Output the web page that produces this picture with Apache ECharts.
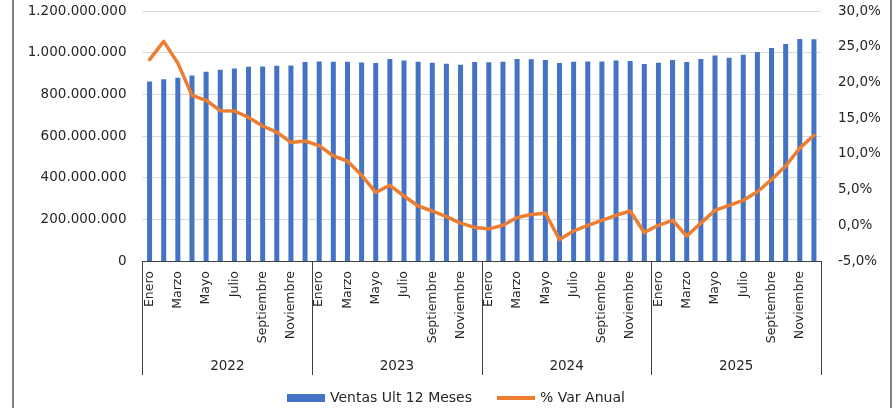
<!DOCTYPE html>
<html>
<head>
<meta charset="utf-8">
<title>Ventas Ult 12 Meses y % Var Anual</title>
<script src="https://cdn.jsdelivr.net/npm/echarts@6/dist/echarts.min.js"></script>
<style>
  html, body { margin: 0; padding: 0; background: #ffffff; }
  #chart { width: 896px; height: 408px; }
</style>
</head>
<body>
<div id="chart"></div>
<script>
// Month names shown on the lower category axis (one per data point)
const monthNames = ['Enero', 'Febrero', 'Marzo', 'Abril', 'Mayo', 'Junio',
  'Julio', 'Agosto', 'Septiembre', 'Octubre', 'Noviembre', 'Diciembre'];
const years = ['2022', '2023', '2024', '2025'];

// Rolling 12-month sales, Jan 2022 .. Dec 2025
const ventas2022 = [862000000, 873000000, 880000000, 891000000, 909000000, 918000000,
  924000000, 933000000, 934000000, 937000000, 939000000, 955000000];
const ventas2023 = [958000000, 957000000, 957000000, 953000000, 950000000, 970000000,
  963000000, 957000000, 952000000, 947000000, 942000000, 955000000];
const ventas2024 = [954000000, 957000000, 970000000, 968000000, 965000000, 950000000,
  957000000, 958000000, 958000000, 962000000, 960000000, 946000000];
const ventas2025 = [952000000, 965000000, 955000000, 970000000, 986000000, 976000000,
  990000000, 1003000000, 1023000000, 1042000000, 1066000000, 1064000000];

// Year-over-year change (%), Jan 2022 .. Dec 2025
const varAnual2022 = [23.2, 25.75, 22.7, 18.2, 17.5, 16.05, 16.0, 15.1, 13.9, 13.05, 11.6, 11.8];
const varAnual2023 = [11.15, 9.7, 9.0, 7.0, 4.6, 5.6, 4.1, 2.7, 2.0, 1.2, 0.3, -0.3];
const varAnual2024 = [-0.5, 0.0, 1.1, 1.5, 1.7, -2.0, -0.8, 0.0, 0.7, 1.4, 2.0, -1.0];
const varAnual2025 = [0.0, 0.7, -1.5, 0.3, 2.1, 2.8, 3.5, 4.7, 6.4, 8.3, 10.8, 12.6];

// Left axis ticks (0 .. 1.200.000.000) and right axis ticks (-5% .. 30%)
const leftTicks = { min: 0, max: 1200000000, step: 200000000 };
const rightTicks = { min: -5, max: 30, step: 5 };

const categories = [];
years.forEach(() => monthNames.forEach(m => categories.push(m)));
const ventas = [].concat(ventas2022, ventas2023, ventas2024, ventas2025);
const varAnual = [].concat(varAnual2022, varAnual2023, varAnual2024, varAnual2025);

const FONT = 'DejaVu Sans';
const TEXT = '#262626';
const BAR_COLOR = '#4472C4';
const LINE_COLOR = '#ED7D31';

function miles(v) {
  return String(v).replace(/\B(?=(\d{3})+(?!\d))/g, '.');
}
function pct(v) {
  return v.toFixed(1).replace('.', ',') + '%';
}

const chart = echarts.init(document.getElementById('chart'), null, { renderer: 'canvas' });

chart.setOption({
  animation: false,
  backgroundColor: '#ffffff',
  textStyle: { fontFamily: FONT },
  grid: { left: 142.5, right: 75, top: 11, bottom: 147, containLabel: false },
  xAxis: [
    {
      type: 'category',
      data: categories,
      position: 'bottom',
      axisLine: { show: true, onZero: false, lineStyle: { color: '#404040', width: 1 } },
      axisTick: { show: false },
      axisLabel: {
        rotate: 90,
        interval: 1,
        margin: 10,
        fontFamily: FONT,
        fontSize: 12.5,
        color: TEXT
      },
      splitLine: { show: false }
    },
    {
      // year grouping row: boundary ticks drawn long to separate the years
      type: 'category',
      data: years,
      position: 'bottom',
      offset: 0,
      axisLine: { show: true, onZero: false, lineStyle: { color: '#404040', width: 1 } },
      axisTick: {
        show: true,
        length: 114,
        alignWithLabel: false,
        lineStyle: { color: '#404040', width: 1 }
      },
      axisLabel: {
        interval: 0,
        margin: 98,
        fontFamily: FONT,
        fontSize: 13.5,
        color: TEXT
      },
      splitLine: { show: false }
    }
  ],
  yAxis: [
    {
      type: 'value',
      min: leftTicks.min,
      max: leftTicks.max,
      interval: leftTicks.step,
      axisLine: { show: false },
      axisTick: { show: false },
      axisLabel: {
        margin: 16,
        fontFamily: FONT,
        fontSize: 13.5,
        color: TEXT,
        formatter: miles
      },
      splitLine: { show: true, lineStyle: { color: '#d9d9d9', width: 1 } }
    },
    {
      type: 'value',
      min: rightTicks.min,
      max: rightTicks.max,
      interval: rightTicks.step,
      position: 'right',
      axisLine: { show: false },
      axisTick: { show: false },
      axisLabel: {
        margin: 17,
        fontFamily: FONT,
        fontSize: 13.5,
        color: TEXT,
        formatter: pct
      },
      splitLine: { show: false }
    }
  ],
  legend: {
    left: 287,
    top: 391,
    padding: 0,
    itemWidth: 38,
    itemHeight: 8,
    itemGap: 25,
    textStyle: { fontFamily: FONT, fontSize: 14, color: TEXT },
    data: [
      { name: 'Ventas Ult 12 Meses', icon: 'rect', itemStyle: { color: BAR_COLOR } },
      { name: '% Var Anual', icon: 'path://M0,0H40V4H0Z', itemStyle: { color: LINE_COLOR, borderWidth: 0 } }
    ]
  },
  series: [
    {
      name: 'Ventas Ult 12 Meses',
      type: 'bar',
      xAxisIndex: 0,
      yAxisIndex: 0,
      data: ventas,
      barWidth: 5,
      itemStyle: { color: BAR_COLOR }
    },
    {
      name: '% Var Anual',
      type: 'line',
      xAxisIndex: 0,
      yAxisIndex: 1,
      data: varAnual,
      symbol: 'none',
      smooth: false,
      lineStyle: { color: LINE_COLOR, width: 3.5, cap: 'round', join: 'round' },
      itemStyle: { color: LINE_COLOR },
      z: 3
    }
  ],
  graphic: [
    {
      type: 'line',
      shape: { x1: 13, y1: 0, x2: 13, y2: 408 },
      style: { stroke: '#595959', lineWidth: 1.5 },
      silent: true
    },
    {
      type: 'line',
      shape: { x1: 891, y1: 0, x2: 891, y2: 408 },
      style: { stroke: '#595959', lineWidth: 1.5 },
      silent: true
    }
  ]
});
</script>
</body>
</html>
